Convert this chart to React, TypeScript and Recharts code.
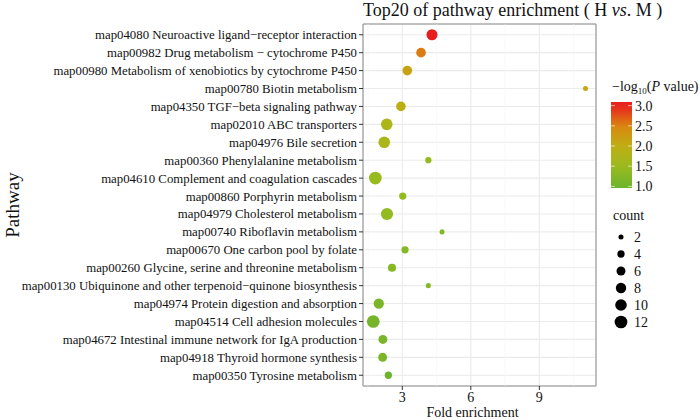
import React from 'react';
import {
    ScatterChart,
    Scatter,
    XAxis,
    YAxis,
    ZAxis,
    CartesianGrid,
    ReferenceLine,
    ReferenceArea,
    Cell
} from 'recharts';

// Pathways, top row first
const pathways = [
    'map04080 Neuroactive ligand\u2212receptor interaction',
    'map00982 Drug metabolism \u2212 cytochrome P450',
    'map00980 Metabolism of xenobiotics by cytochrome P450',
    'map00780 Biotin metabolism',
    'map04350 TGF\u2212beta signaling pathway',
    'map02010 ABC transporters',
    'map04976 Bile secretion',
    'map00360 Phenylalanine metabolism',
    'map04610 Complement and coagulation cascades',
    'map00860 Porphyrin metabolism',
    'map04979 Cholesterol metabolism',
    'map00740 Riboflavin metabolism',
    'map00670 One carbon pool by folate',
    'map00260 Glycine, serine and threonine metabolism',
    'map00130 Ubiquinone and other terpenoid\u2212quinone biosynthesis',
    'map04974 Protein digestion and absorption',
    'map04514 Cell adhesion molecules',
    'map04672 Intestinal immune network for IgA production',
    'map04918 Thyroid hormone synthesis',
    'map00350 Tyrosine metabolism'
];

const foldEnrichment = [4.30, 3.82, 3.22, 11.02, 2.94, 2.32, 2.21, 4.14, 1.82, 3.02, 2.33, 4.74, 3.12, 2.55, 4.14, 1.97, 1.73, 2.15, 2.14, 2.39];
const negLogP = [3.09, 2.55, 2.15, 2.10, 1.95, 1.75, 1.70, 1.45, 1.45, 1.40, 1.40, 1.25, 1.25, 1.25, 1.25, 1.15, 1.10, 1.15, 1.15, 0.96];
const counts = [9, 7, 7, 2, 7, 10, 10, 3, 12, 4, 11, 2, 4, 5, 2, 8, 12, 6, 6, 4];

const xTicks = [3, 6, 9];
const xMinorTicks = [1.5, 4.5, 7.5, 10.5];
const colorBarTicks = [1.0, 1.5, 2.0, 2.5, 3.0];
const countBreaks = [2, 4, 6, 8, 10, 12];

// colour scale stops (-log10 P -> colour)
const colorStops: [number, string][] = [
    [1.0, '#6cb42c'],
    [1.5, '#9cbb1e'],
    [2.0, '#c0ae14'],
    [2.5, '#da8610'],
    [3.0, '#e81e1e']
];

const FONT = '"Liberation Serif", "Times New Roman", serif';
const X_DOMAIN: [number, number] = [1.28, 11.48];
const Y_DOMAIN: [number, number] = [0.4, 20.6];
const SIZE_RANGE: [number, number] = [20, 127];

const hexToRgb = (h: string) => [1, 3, 5].map(i => parseInt(h.slice(i, i + 2), 16));
const rgbToHex = (c: number[]) => '#' + c.map(v => Math.round(v).toString(16).padStart(2, '0')).join('');

const colorFor = (v: number) => {
    if (v <= colorStops[0][0]) return colorStops[0][1];
    for (let i = 1; i < colorStops.length; i++) {
        const [v1, c1] = colorStops[i];
        const [v0, c0] = colorStops[i - 1];
        if (v <= v1) {
            const t = (v - v0) / (v1 - v0);
            const a = hexToRgb(c0);
            const b = hexToRgb(c1);
            return rgbToHex(a.map((x, k) => x + (b[k] - x) * t));
        }
    }
    return colorStops[colorStops.length - 1][1];
};

const data = pathways.map((name, i) => ({
    name,
    rank: pathways.length - i,
    fold: foldEnrichment[i],
    logp: negLogP[i],
    count: counts[i]
}));

const rankToName = (r: number) => pathways[pathways.length - r] ?? '';

// plain one-line tick, no wrapping
const PathwayTick = (props: any) => {
    const { x, y, payload } = props;
    return (
        <text x={x} y={y} dy="0.35em" textAnchor="end" fontSize={12.8} fill="#111" fontFamily={FONT}>
            {rankToName(payload.value)}
        </text>
    );
};

const Legends: React.FC = () => {
    const pMin = Math.min(...negLogP);
    const pMax = Math.max(...negLogP);
    const barX = 611, barY = 102, barW = 21, barH = 86;
    const yFor = (v: number) => barY + barH - ((v - pMin) / (pMax - pMin)) * barH;
    const radiusFor = (c: number) => {
        const area = SIZE_RANGE[0] + ((c - 2) / (12 - 2)) * (SIZE_RANGE[1] - SIZE_RANGE[0]);
        return Math.sqrt(area / Math.PI);
    };
    // gradient samples
    const samples = Array.from({ length: 11 }, (_, k) => pMin + ((pMax - pMin) * k) / 10);

    return (
        <svg width={700} height={420} style={{ position: 'absolute', left: 0, top: 0, pointerEvents: 'none' }}>
            <defs>
                <linearGradient id="pgrad" x1="0" y1="1" x2="0" y2="0">
                    {samples.map((v, k) => (
                        <stop key={k} offset={k / 10} stopColor={colorFor(v)} />
                    ))}
                </linearGradient>
            </defs>
            {/* Title */}
            <text x={363} y={16} fontFamily={FONT} fontSize={18} fill="#111">
                Top20 of pathway enrichment ( H <tspan fontStyle="italic">vs</tspan>. M )
            </text>

            {/* colour bar */}
            <text x={612} y={91} fontFamily={FONT} fontSize={14} fill="#111">
                {'\u2212log'}
                <tspan fontSize={9} dy={3}>10</tspan>
                <tspan dy={-3}>(</tspan>
                <tspan fontStyle="italic">P</tspan>
                <tspan> value)</tspan>
            </text>
            <rect x={barX} y={barY} width={barW} height={barH} fill="url(#pgrad)" />
            {colorBarTicks.map(t => (
                <g key={t}>
                    <line x1={barX} x2={barX + 4} y1={yFor(t)} y2={yFor(t)} stroke="#fff" strokeWidth={0.6} />
                    <line x1={barX + barW - 4} x2={barX + barW} y1={yFor(t)} y2={yFor(t)} stroke="#fff" strokeWidth={0.6} />
                    <text x={635} y={yFor(t)} dy="0.35em" fontFamily={FONT} fontSize={14} fill="#111">
                        {t.toFixed(1)}
                    </text>
                </g>
            ))}

            {/* size legend */}
            <text x={613} y={220} fontFamily={FONT} fontSize={14} fill="#111">count</text>
            {countBreaks.map((c, k) => (
                <g key={c}>
                    <circle cx={621} cy={237 + k * 17} r={radiusFor(c)} fill="#000" />
                    <text x={634} y={237 + k * 17} dy="0.35em" fontFamily={FONT} fontSize={14} fill="#111">
                        {c}
                    </text>
                </g>
            ))}
        </svg>
    );
};

export default function App() {
    return (
        <div style={{ position: 'absolute', left: 0, top: 0, width: 700, height: 420, background: '#fff' }}>
            <ScatterChart width={700} height={420} margin={{ top: 24, right: 104, bottom: 0, left: 0 }}>
                <CartesianGrid stroke="#ebebeb" strokeWidth={1.1} />
                {xMinorTicks.map(t => (
                    <ReferenceLine key={t} x={t} stroke="#f3f3f3" strokeWidth={0.6} />
                ))}
                <XAxis
                    dataKey="fold"
                    type="number"
                    domain={X_DOMAIN}
                    allowDataOverflow
                    ticks={xTicks}
                    height={34}
                    axisLine={false}
                    tickLine={{ stroke: '#333' }}
                    tickSize={4}
                    tickMargin={2}
                    tick={{ fontSize: 14, fill: '#111', fontFamily: FONT }}
                    label={{ value: 'Fold enrichment', position: 'insideBottom', offset: 3, dx: -7, style: { fontSize: 14, fill: '#111', fontFamily: FONT } }}
                />
                <YAxis
                    dataKey="rank"
                    type="number"
                    domain={Y_DOMAIN}
                    allowDataOverflow
                    ticks={data.map(d => d.rank)}
                    interval={0}
                    width={363}
                    axisLine={false}
                    tickLine={{ stroke: '#333' }}
                    tickSize={4}
                    tickMargin={2}
                    tick={<PathwayTick />}
                    label={{ value: 'Pathway', angle: -90, position: 'insideLeft', offset: 12, style: { fontSize: 19, fill: '#111', fontFamily: FONT, textAnchor: 'middle' } }}
                />
                <ZAxis dataKey="count" type="number" domain={[2, 12]} range={SIZE_RANGE} />
                <Scatter data={data} isAnimationActive={false}>
                    {data.map((d, i) => (
                        <Cell key={i} fill={colorFor(d.logp)} />
                    ))}
                </Scatter>
                <ReferenceArea x1={X_DOMAIN[0]} x2={X_DOMAIN[1]} y1={Y_DOMAIN[0]} y2={Y_DOMAIN[1]} fill="none" stroke="#8a8a8a" strokeWidth={1} ifOverflow="visible" />
            </ScatterChart>
            <Legends />
        </div>
    );
}
